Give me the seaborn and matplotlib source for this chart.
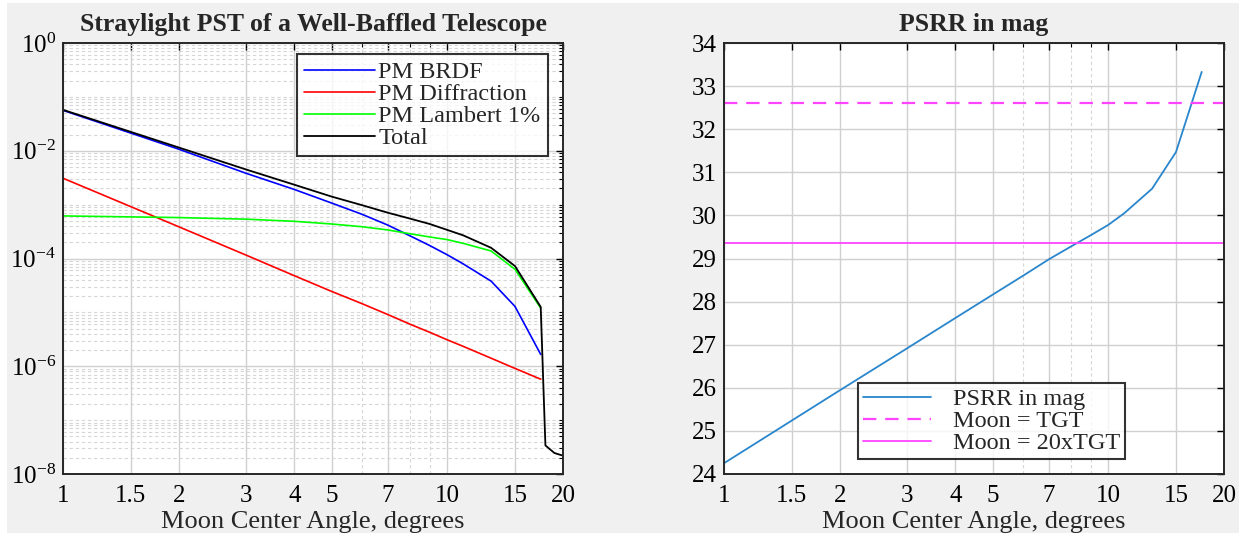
import numpy as np
import pandas as pd
import matplotlib
matplotlib.use('Agg')
import matplotlib.pyplot as plt
import matplotlib.ticker as mticker
from matplotlib.patches import Rectangle
import seaborn as sns

# ---- data ----
angle = [1, 2, 3, 4, 5, 6, 7, 8, 9, 10, 11, 13, 15, 17.5]
pm_brdf = [5.62e-2, 1.07e-2, 3.80e-3, 1.91e-3, 1.07e-3, 6.61e-4, 4.17e-4,
           2.63e-4, 1.74e-4, 1.17e-4, 7.94e-5, 3.80e-5, 1.29e-5, 1.66e-6]
pm_diffraction = [3.09e-3, 3.89e-4, 1.15e-4, 4.79e-5, 2.45e-5, 1.45e-5, 9.12e-6,
                  6.03e-6, 4.27e-6, 3.09e-6, 2.34e-6, 1.41e-6, 9.12e-7, 5.75e-7]
pm_lambert = [6.17e-4, 5.75e-4, 5.37e-4, 4.90e-4, 4.37e-4, 3.89e-4, 3.39e-4,
              2.88e-4, 2.51e-4, 2.24e-4, 1.91e-4, 1.38e-4, 6.31e-5, 1.20e-5]
angle_total = [1, 2, 3, 4, 5, 6, 7, 8, 9, 10, 11, 13, 15, 17.5, 18, 19, 20]
total = [5.75e-2, 1.15e-2, 4.47e-3, 2.34e-3, 1.41e-3, 9.77e-4, 7.08e-4, 5.50e-4,
         4.37e-4, 3.39e-4, 2.69e-4, 1.58e-4, 7.24e-5, 1.26e-5, 3.39e-8, 2.45e-8, 2.19e-8]

psrr = [24.25, 25.94, 26.92, 27.62, 28.16, 28.60, 28.98, 29.28, 29.54, 29.78,
        30.05, 30.62, 31.47, 33.33]
moon_tgt = 32.61
moon_20tgt = 29.36

x_ticks = [1, 1.5, 2, 3, 4, 5, 7, 10, 15, 20]
x_tick_labels = ['1', '1.5', '2', '3', '4', '5', '7', '10', '15', '20']

sns.set_theme(style='white')
plt.rcParams['font.family'] = ['Liberation Serif', 'DejaVu Serif']
plt.rcParams['mathtext.fontset'] = 'custom'
plt.rcParams['mathtext.rm'] = 'Liberation Serif'
plt.rcParams['mathtext.it'] = 'Liberation Serif'

fig = plt.figure(figsize=(12.47, 5.35), dpi=100, facecolor='white')
fig.patches.append(Rectangle((7 / 1247, 2 / 535), 1232 / 1247, 530 / 535,
                             transform=fig.transFigure, facecolor='#f0f0f0',
                             edgecolor='none', zorder=-10))
ax1 = fig.add_axes([63 / 1247, 61 / 535, 500 / 1247, 431 / 535])
ax2 = fig.add_axes([724 / 1247, 61 / 535, 500 / 1247, 431 / 535])

major_grid = dict(color='#d0d0d0', lw=1.0, ls='-')
minor_grid = dict(color='#d6d6d6', lw=0.8, ls=(0, (3, 2.5)))


def style_axes(ax):
    ax.set_facecolor('white')
    ax.set_xscale('log')
    ax.set_xlim(1, 20)
    ax.xaxis.set_major_locator(mticker.FixedLocator(x_ticks))
    ax.xaxis.set_major_formatter(mticker.FixedFormatter(x_tick_labels))
    ax.xaxis.set_minor_locator(mticker.FixedLocator([6, 8, 9]))
    ax.xaxis.set_minor_formatter(mticker.NullFormatter())
    ax.tick_params(which='both', direction='in', top=True, right=True,
                   labelsize=18, colors='black')
    ax.tick_params(axis='x', pad=8)
    ax.tick_params(axis='y', pad=5)
    ax.tick_params(which='major', length=5, width=1)
    ax.tick_params(which='minor', length=3, width=0.8)
    for s in ax.spines.values():
        s.set_color('#262626')
        s.set_linewidth(1.4)
    ax.grid(which='major', **major_grid)
    ax.grid(which='minor', **minor_grid)
    ax.set_axisbelow(True)
    ax.set_xlabel('Moon Center Angle, degrees', fontsize=19, labelpad=3)


# ---- left: straylight PST ----
style_axes(ax1)
ax1.set_yscale('log')
ax1.set_ylim(1e-8, 1)
ax1.yaxis.set_major_locator(mticker.FixedLocator([1e-8, 1e-6, 1e-4, 1e-2, 1e0]))
ax1.yaxis.set_major_formatter(mticker.FixedFormatter(
    ['$10^{-8}$', '$10^{-6}$', '$10^{-4}$', '$10^{-2}$', '$10^{0}$']))
minor_y = [k * 10.0 ** e for e in range(-8, 0) for k in range(1, 10)
           if not (k == 1 and e % 2 == 0)]
ax1.yaxis.set_minor_locator(mticker.FixedLocator(minor_y))
ax1.yaxis.set_minor_formatter(mticker.NullFormatter())

sns.lineplot(x=angle, y=pm_brdf, ax=ax1, color='#0000ff', lw=1.2, label='PM BRDF')
sns.lineplot(x=angle, y=pm_diffraction, ax=ax1, color='#ff0000', lw=1.2, label='PM Diffraction')
sns.lineplot(x=angle, y=pm_lambert, ax=ax1, color='#00ff00', lw=1.2, label='PM Lambert 1%')
sns.lineplot(x=angle_total, y=total, ax=ax1, color='black', lw=1.3, label='Total')
ax1.set_ylabel('')
ax1.set_title('Straylight PST of a Well-Baffled Telescope', fontsize=18.5,
              fontweight='bold', pad=9)
leg1 = ax1.legend(loc='upper right', bbox_to_anchor=(0.97, 0.975), fontsize=17.5,
                  frameon=True, fancybox=False, edgecolor='black',
                  handlelength=2.9, handletextpad=0.15, labelspacing=0.0,
                  borderpad=0.3, borderaxespad=0)
leg1.get_frame().set_linewidth(1.5)

# ---- right: PSRR in mag ----
style_axes(ax2)
ax2.set_ylim(24, 34)
ax2.yaxis.set_major_locator(mticker.MultipleLocator(1))
sns.lineplot(x=angle, y=psrr, ax=ax2, color='#2a86cc', lw=1.3, label='PSRR in mag')
ax2.axhline(moon_tgt, color='#ff44ff', lw=1.6, ls=(0, (6, 4)), label='Moon = TGT')
ax2.axhline(moon_20tgt, color='#ff44ff', lw=1.3, ls='-', label='Moon = 20xTGT')
ax2.set_title('PSRR in mag', fontsize=18.5, fontweight='bold', pad=9)
leg2 = ax2.legend(loc='lower left', bbox_to_anchor=(0.268, 0.035), fontsize=17.5,
                  frameon=True, fancybox=False, edgecolor='black',
                  handlelength=2.8, handletextpad=0.9, labelspacing=0.0,
                  borderpad=0.2, borderaxespad=0)
leg2.get_frame().set_linewidth(1.5)

plt.savefig('out.png', dpi=100, facecolor=fig.get_facecolor())
